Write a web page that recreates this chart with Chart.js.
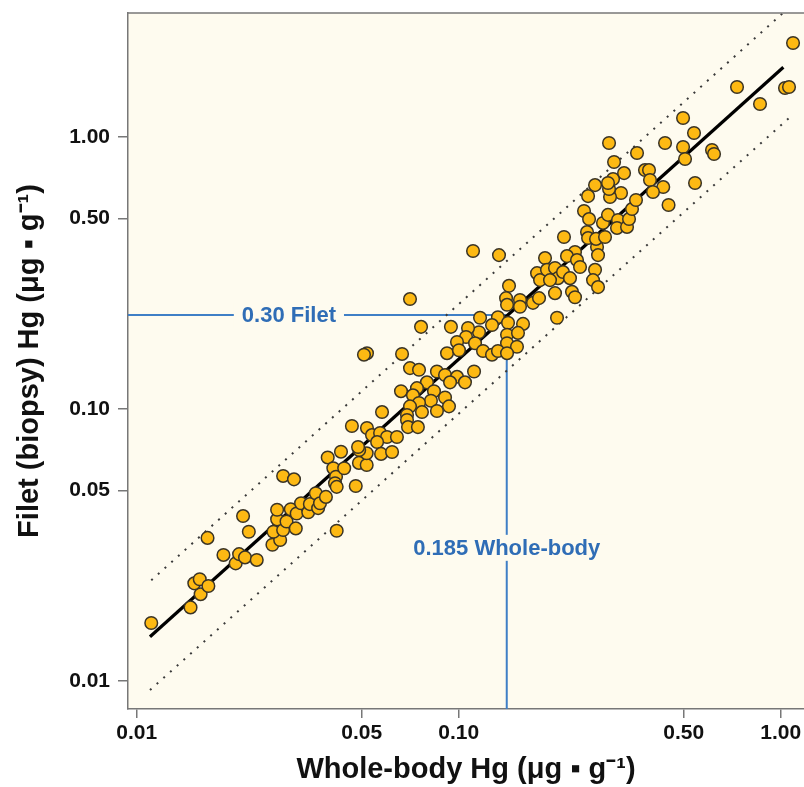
<!DOCTYPE html>
<html lang="en">
<head>
    <meta charset="UTF-8">
    <title>Filet vs whole-body Hg</title>
    <script src="https://cdn.jsdelivr.net/npm/chart.js"></script>
    <style>
        body {
            margin: 0;
            padding: 0;
            background: #ffffff;
        }
    </style>
</head>
<body>
    <canvas id="hgChart" width="804" height="787"></canvas>

    <script>
        // whole-body Hg (x) and filet Hg (y), ug/g
        const wholeBody = [
            0.0111, 0.0147, 0.0158, 0.0151, 0.0157, 0.0167, 0.0166, 0.0186, 0.0203, 0.0208,
            0.0217, 0.0236, 0.0214, 0.0223, 0.0264, 0.0279, 0.0266, 0.0285, 0.0273, 0.0273,
            0.0292, 0.0301, 0.0312, 0.0314, 0.0324, 0.0341, 0.0345, 0.0360, 0.0366, 0.0371,
            0.0387, 0.0285, 0.0308, 0.0418, 0.0392, 0.0408, 0.0416, 0.0413, 0.0418, 0.0441,
            0.0479, 0.0431, 0.0490, 0.0518, 0.0518, 0.0491, 0.0764, 0.0519, 0.0508, 0.0667,
            0.0706, 0.0753, 0.0856, 0.0907, 0.0988, 0.0940, 0.1046, 0.1116, 0.0797, 0.0742,
            0.0662, 0.0838, 0.0721, 0.0820, 0.0907, 0.0933, 0.0856, 0.0753, 0.0706, 0.0769,
            0.0691, 0.0578, 0.0691, 0.0696, 0.0747, 0.0466, 0.0519, 0.0538, 0.0570, 0.0599,
            0.0643, 0.0558, 0.0487, 0.0574, 0.0621, 0.0706, 0.1108, 0.1334, 0.1433, 0.1403,
            0.1413, 0.1550, 0.1550, 0.1701, 0.1776, 0.2020, 0.1165, 0.1324, 0.1269, 0.1423,
            0.1584, 0.1156, 0.0946, 0.1069, 0.1054, 0.1413, 0.1528, 0.0988, 0.1124, 0.1413,
            0.1517, 0.0920, 0.1002, 0.1190, 0.1269, 0.1324, 0.1413, 0.1854, 0.1751, 0.1789,
            0.1880, 0.1991, 0.2034, 0.2108, 0.2216, 0.1921, 0.1991, 0.2248, 0.2297, 0.2123,
            0.2297, 0.2169, 0.2330, 0.2381, 0.2689, 0.2708, 0.2651, 0.2613, 0.2708, 0.2522,
            0.2450, 0.2540, 0.2503, 0.2522, 0.2670, 0.2847, 0.2806, 0.2908, 0.3124, 0.3102,
            0.3332, 0.3380, 0.3453, 0.3553, 0.3192, 0.2951, 0.2930, 0.3015, 0.2651, 0.2908,
            0.7316, 0.8623, 1.031, 1.061, 1.092, 0.4974, 0.5379, 0.4974, 0.5045, 0.4373,
            0.6118, 0.6207, 0.5419, 0.4484, 0.2930, 0.3579, 0.3037, 0.3262, 0.3788, 0.3899,
            0.3927, 0.4317, 0.4011
        ];
        const filet = [
            0.0163, 0.0186, 0.0208, 0.0228, 0.0236, 0.0223, 0.0335, 0.0290, 0.0270, 0.0292,
            0.0284, 0.0278, 0.0403, 0.0353, 0.0316, 0.0329, 0.0353, 0.0358, 0.0392, 0.0425,
            0.0385, 0.0427, 0.0363, 0.0412, 0.0449, 0.0416, 0.0446, 0.0489, 0.0431, 0.0449,
            0.0474, 0.0566, 0.0550, 0.0356, 0.0662, 0.0604, 0.0562, 0.0532, 0.0516, 0.0604,
            0.0520, 0.0695, 0.0632, 0.0621, 0.0686, 0.0705, 0.200, 0.160, 0.158, 0.159,
            0.141, 0.139, 0.137, 0.133, 0.131, 0.125, 0.125, 0.137, 0.125, 0.119,
            0.116, 0.116, 0.112, 0.107, 0.110, 0.102, 0.0981, 0.105, 0.102, 0.0972,
            0.0948, 0.0972, 0.0909, 0.0856, 0.0856, 0.0864, 0.0849, 0.0800, 0.0814, 0.0787,
            0.0787, 0.0754, 0.0723, 0.0682, 0.0693, 0.253, 0.380, 0.367, 0.283, 0.255,
            0.241, 0.251, 0.237, 0.245, 0.255, 0.216, 0.216, 0.217, 0.203, 0.207,
            0.205, 0.191, 0.200, 0.198, 0.1835, 0.187, 0.190, 0.176, 0.174, 0.174,
            0.169, 0.160, 0.164, 0.163, 0.158, 0.163, 0.160, 0.358, 0.315, 0.297,
            0.324, 0.329, 0.302, 0.318, 0.302, 0.297, 0.266, 0.269, 0.257, 0.428,
            0.377, 0.364, 0.352, 0.332, 0.393, 0.367, 0.324, 0.297, 0.280, 0.605,
            0.533, 0.498, 0.446, 0.424, 0.421, 0.428, 0.482, 0.516, 0.494, 0.462,
            0.466, 0.498, 0.542, 0.585, 0.621, 0.600, 0.642, 0.699, 0.664, 0.676,
            1.523, 1.319, 1.510, 1.523, 2.211, 1.172, 1.032, 0.917, 0.828, 0.948,
            0.894, 0.864, 0.676, 0.561, 0.948, 0.871, 0.807, 0.735, 0.754, 0.754,
            0.693, 0.653, 0.626
        ];

        // regression line and prediction band (end points)
        const fitX = [0.0110, 1.019];
        const fitY = [0.0145, 1.80];
        const upperX = [0.0111, 1.10];
        const upperY = [0.0234, 3.10];
        const lowerX = [0.0110, 1.077];
        const lowerY = [0.00924, 1.19];

        // reference lines as drawn in the figure
        const refX = 0.141;
        const refY = 0.221;

        const tickValues = [0.01, 0.05, 0.10, 0.50, 1.00];
        const tickLabels = ['0.01', '0.05', '0.10', '0.50', '1.00'];

        const xMin = 0.0094, xMax = 1.181;
        const yMin = 0.00787, yMax = 2.85;

        const FONT = "'Liberation Sans', Arial, Helvetica, sans-serif";
        const BLUE = '#3f7fc6';
        const BG = '#fefbef';

        const toPoints = (xs, ys) => xs.map((x, i) => ({ x: x, y: ys[i] }));

        // fondo crema del área de trazado + borde superior
        const plotBackground = {
            id: 'plotBackground',
            beforeDraw(chart) {
                const { ctx, chartArea: a } = chart;
                ctx.save();
                ctx.fillStyle = BG;
                ctx.fillRect(a.left, a.top, a.right - a.left, a.bottom - a.top);
                ctx.restore();
            },
            afterDraw(chart) {
                const { ctx, chartArea: a } = chart;
                ctx.save();
                ctx.strokeStyle = '#777';
                ctx.lineWidth = 1.5;
                ctx.beginPath();
                ctx.moveTo(a.left, a.top);
                ctx.lineTo(a.right, a.top);
                ctx.stroke();
                ctx.restore();
            }
        };

        // etiquetas azules sobre las líneas de referencia
        const refLabels = {
            id: 'refLabels',
            afterDatasetsDraw(chart) {
                const { ctx, scales } = chart;
                const items = [
                    { text: '0.30 Filet', x: scales.x.getPixelForValue(0.0297), y: scales.y.getPixelForValue(refY) },
                    { text: '0.185 Whole-body', x: scales.x.getPixelForValue(refX), y: scales.y.getPixelForValue(0.0308) }
                ];
                ctx.save();
                ctx.font = 'bold 22px ' + FONT;
                ctx.textAlign = 'center';
                ctx.textBaseline = 'middle';
                items.forEach(it => {
                    const w = ctx.measureText(it.text).width;
                    ctx.fillStyle = BG;
                    ctx.fillRect(it.x - w / 2 - 8, it.y - 13, w + 16, 26);
                    ctx.fillStyle = '#2f6db6';
                    ctx.fillText(it.text, it.x, it.y + 1);
                });
                ctx.restore();
            }
        };

        const lineSet = (data, color, width, dash, order) => ({
            type: 'line',
            data: data,
            borderColor: color,
            borderWidth: width,
            borderDash: dash,
            pointRadius: 0,
            fill: false,
            order: order
        });

        const axisOpts = (titleText, isX) => ({
            type: 'logarithmic',
            min: isX ? xMin : yMin,
            max: isX ? xMax : yMax,
            afterBuildTicks: scale => {
                scale.ticks = tickValues.map(v => ({ value: v }));
            },
            afterFit: scale => {
                if (isX) scale.height = 78;
                else scale.width = 128;
                // no extra room for the end labels
                scale.paddingLeft = 0;
                scale.paddingRight = 0;
                scale.paddingTop = 0;
                scale.paddingBottom = 0;
            },
            ticks: {
                autoSkip: false,
                maxRotation: 0,
                padding: isX ? 3 : 8,
                color: '#111',
                font: { family: FONT, size: 21, weight: 'bold' },
                callback: (v) => {
                    const i = tickValues.findIndex(t => Math.abs(t - v) < 1e-9);
                    return i >= 0 ? tickLabels[i] : '';
                }
            },
            grid: {
                drawOnChartArea: false,
                drawTicks: true,
                tickLength: isX ? 9 : 10,
                color: '#777',
                lineWidth: 1.5
            },
            border: { display: true, color: '#777', width: 1.5 },
            title: {
                display: true,
                text: titleText,
                color: '#111',
                font: { family: FONT, size: 29, weight: 'bold' },
                padding: isX ? { top: 0, bottom: 0 } : { top: 13, bottom: 0 }
            }
        });

        const ctx = document.getElementById('hgChart').getContext('2d');
        new Chart(ctx, {
            type: 'scatter',
            data: {
                datasets: [
                    {
                        label: 'Fish',
                        data: toPoints(wholeBody, filet),
                        backgroundColor: '#fdb913',
                        borderColor: '#3a3426',
                        borderWidth: 1.5,
                        pointRadius: 6.3,
                        order: 0
                    },
                    lineSet(toPoints(fitX, fitY), '#000000', 3.2, [], 1),
                    lineSet(toPoints(upperX, upperY), '#3a3a3a', 2, [2, 7], 2),
                    lineSet(toPoints(lowerX, lowerY), '#3a3a3a', 2, [2, 7], 2),
                    lineSet([{ x: xMin, y: refY }, { x: refX, y: refY }], BLUE, 2, [], 3),
                    lineSet([{ x: refX, y: refY }, { x: refX, y: yMin }], BLUE, 2, [], 3)
                ]
            },
            options: {
                responsive: false,
                animation: false,
                devicePixelRatio: 1,
                layout: {
                    autoPadding: false,
                    padding: { top: 13, right: 0, bottom: 0, left: 0 }
                },
                plugins: {
                    legend: { display: false },
                    tooltip: { enabled: false }
                },
                scales: {
                    x: axisOpts('Whole-body Hg (μg ▪ g⁻¹)', true),
                    y: axisOpts('Filet (biopsy) Hg (μg ▪ g⁻¹)', false)
                }
            },
            plugins: [plotBackground, refLabels]
        });
    </script>
</body>
</html>
